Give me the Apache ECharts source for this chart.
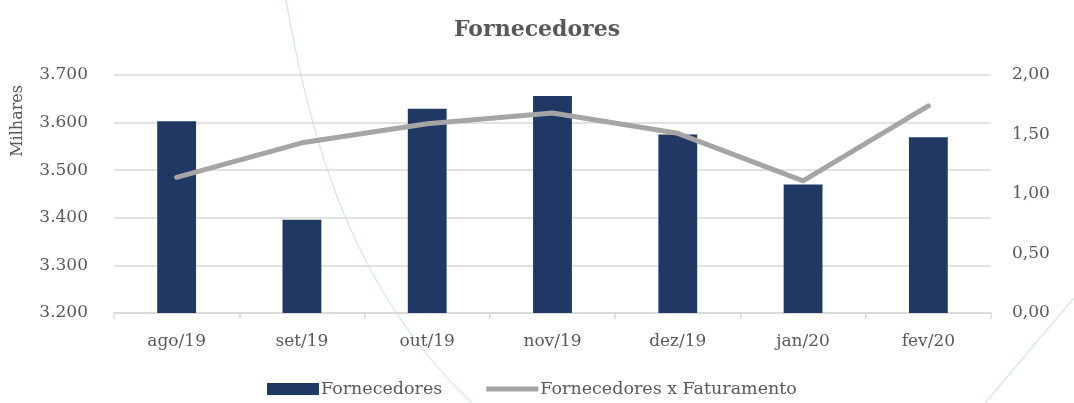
<!DOCTYPE html>
<html><head><meta charset="utf-8">
<script src="https://cdn.jsdelivr.net/npm/echarts@6/dist/echarts.min.js"></script>
<style>html,body{margin:0;padding:0;background:#fff}#c{width:1074px;height:403px}</style>
</head><body><div id="c"></div>
<script>
const categories = ['ago/19','set/19','out/19','nov/19','dez/19','jan/20','fev/20'];
const fornecedores = [3603, 3396, 3629, 3656, 3575, 3470, 3569];
const fornXFat = [1.14, 1.43, 1.59, 1.68, 1.51, 1.11, 1.74];
const leftTicks = [3200, 3300, 3400, 3500, 3600, 3700];
const rightTicks = [0, 0.5, 1, 1.5, 2];

const FONT = 'DejaVu Serif';
const TXT = '#595959';
const chart = echarts.init(document.getElementById('c'), null, {renderer:'canvas'});
chart.setOption({
  backgroundColor: '#fff',
  animation: false,
  title: {text:'Fornecedores', left:'center', top:14,
    textStyle:{fontFamily:FONT, fontSize:22, fontWeight:'bold', color:TXT}},
  graphic: [
    {type:'bezierCurve', silent:true, z:-1,
      shape:{x1:286, y1:0, cpx1:310, cpy1:140, cpx2:352, cpy2:290, x2:472, y2:403},
      style:{fill:null, stroke:'#cfe5ea', lineWidth:1.2}},
    {type:'line', silent:true, z:-1, shape:{x1:985, y1:403, x2:1074, y2:298},
      style:{stroke:'#d3e8dc', lineWidth:1.2}},
    {type:'text', left:10, top:85, rotation:Math.PI/2,
      style:{text:'Milhares', fontFamily:FONT, fontSize:16, fill:TXT}}
  ],
  legend: {bottom:0, left:262, itemGap:44, itemWidth:52, itemHeight:12,
    textStyle:{fontFamily:FONT, fontSize:17.5, color:TXT, padding:[0,0,0,-3]},
    data:[{name:'Fornecedores', icon:'rect'},
          {name:'Fornecedores x Faturamento', icon:'path://M0,0 L10,0 L10,1 L0,1 Z', itemStyle:{color:'#A5A5A5'}}]},
  grid: {left:114, right:83, top:75, bottom:90},
  xAxis: {type:'category', data:categories,
    axisLine:{lineStyle:{color:'#D9D9D9', width:1.5}},
    axisTick:{show:true, length:6, lineStyle:{color:'#D9D9D9', width:1.5}},
    axisLabel:{fontFamily:FONT, fontSize:17, color:TXT, margin:20}},
  yAxis: [
    {type:'value', min:3200, max:3700, interval:100,
      axisLine:{show:false}, axisTick:{show:false},
      splitLine:{lineStyle:{color:'#D9D9D9', width:1.5}},
      axisLabel:{fontFamily:FONT, fontSize:17, color:TXT, margin:26,
        formatter:v=>leftTicks.includes(v)?(v/1000).toFixed(3):''}},
    {type:'value', min:0, max:2, interval:0.5,
      axisLine:{show:false}, axisTick:{show:false}, splitLine:{show:false},
      axisLabel:{fontFamily:FONT, fontSize:17, color:TXT, margin:21,
        formatter:v=>rightTicks.includes(v)?v.toFixed(2).replace('.',','):''}}
  ],
  series: [
    {name:'Fornecedores', type:'bar', data:fornecedores, barWidth:'31%',
      itemStyle:{color:'#203864'}},
    {name:'Fornecedores x Faturamento', type:'line', yAxisIndex:1, data:fornXFat,
      symbol:'none', lineStyle:{color:'#A5A5A5', width:5, cap:'round'}, itemStyle:{color:'#A5A5A5'}}
  ]
});
</script></body></html>
